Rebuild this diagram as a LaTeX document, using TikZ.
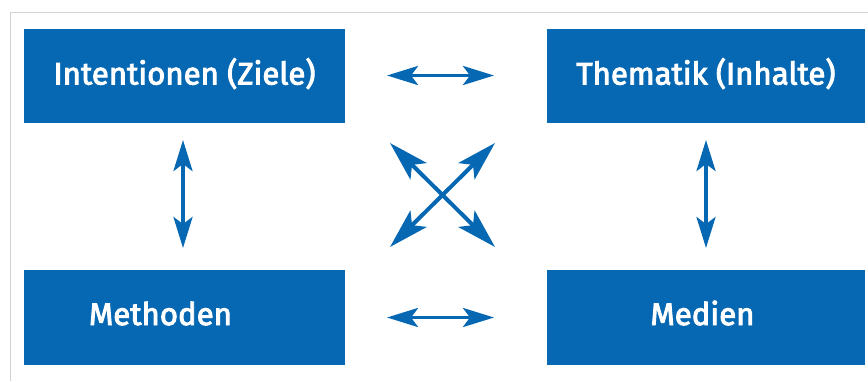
\documentclass[tikz,border=0pt]{standalone}
\usepackage{fontspec}
\setmainfont{Fira Sans}
\newfontfamily\lblfont{Fira Sans}[FakeBold=3]
\usetikzlibrary{arrows.meta}
\definecolor{boxblue}{RGB}{6,104,178}
\definecolor{framegray}{RGB}{210,210,210}
\tikzset{
  box/.style={fill=boxblue, draw=none, inner sep=0pt},
  lbl/.style={text=white, font=\lblfont\fontsize{31.2}{38}\selectfont, inner sep=0pt, anchor=base},
  arr/.style={draw=boxblue, line width=3.8pt, {Stealth[length=31pt, width=19pt, inset=7pt]}-{Stealth[length=31pt, width=19pt, inset=7pt]}},
  arrd/.style={draw=boxblue, line width=4pt, {Stealth[length=40pt, width=23pt, inset=9pt]}-{Stealth[length=40pt, width=23pt, inset=9pt]}},
}
\begin{document}
\begin{tikzpicture}[x=1pt,y=-1pt]
\useasboundingbox (0,0) rectangle (868,381);
\draw[framegray, line width=1pt] (868,12) -- (10,12) -- (10,381);
% boxes
\node[box, minimum width=321pt, minimum height=94pt] (tl) at (184.5,76) {};
\node[box, minimum width=318pt, minimum height=94pt] (tr) at (706,76) {};
\node[box, minimum width=321pt, minimum height=95pt] (bl) at (184.5,317.5) {};
\node[box, minimum width=318pt, minimum height=95pt] (br) at (706,317.5) {};
% labels
\node[lbl] (tlt) at (184.5,84.5) {Intentionen (Ziele)};
\node[lbl] (trt) at (706,84.5) {Thematik (Inhalte)};
\node[lbl] (blt) at (160.5,325) {Methoden};
\node[lbl] (brt) at (702.5,325) {Medien};
% arrow end points
\coordinate (h1a) at (387,75.5);
\coordinate (h1b) at (494,75.5);
\coordinate (h2a) at (387,317.5);
\coordinate (h2b) at (494,317.5);
\coordinate (v1a) at (183,140);
\coordinate (v1b) at (183,248);
\coordinate (v2a) at (706,140);
\coordinate (v2b) at (706,248);
\coordinate (d1a) at (390,143);
\coordinate (d1b) at (495,247);
\coordinate (d2a) at (495,143);
\coordinate (d2b) at (390,247);
\draw[arr] (h1a) -- (h1b);
\draw[arr] (h2a) -- (h2b);
\draw[arr] (v1a) -- (v1b);
\draw[arr] (v2a) -- (v2b);
\draw[arrd] (d1a) -- (d1b);
\draw[arrd] (d2a) -- (d2b);
\end{tikzpicture}
\end{document}
